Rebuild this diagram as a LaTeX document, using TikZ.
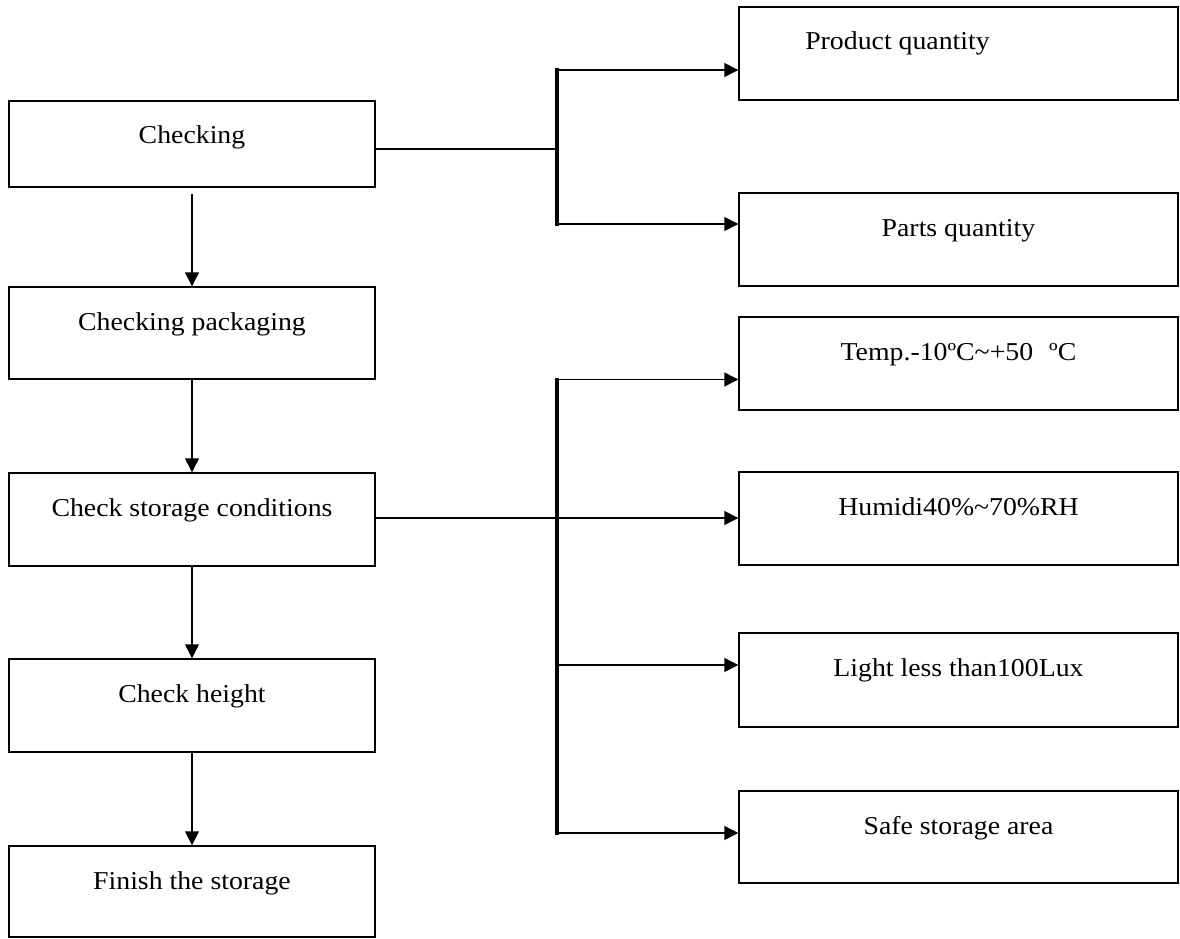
\documentclass[tikz,border=0pt]{standalone}
\usepackage{fontspec}
\setmainfont[FakeStretch=1.08]{Liberation Serif}
\usetikzlibrary{arrows.meta}
\begin{document}
\begin{tikzpicture}[x=0.75pt,y=-0.75pt,
  box/.style={draw, line width=1.1pt, inner sep=0pt, align=center,
    font=\fontsize{19.3pt}{23pt}\selectfont, text height=32.25pt},
  lbox/.style={box, minimum width=274.5pt},
  rbox/.style={box, minimum width=329.25pt},
  arr/.style={line width=1.1pt, -{Triangle[length=10.5pt,width=10.5pt]}},
  feed/.style={line width=2.1pt},
  trunk/.style={line width=2.3pt, line cap=rect}]
\useasboundingbox (0,0) rectangle (1180,938);
% left column
\node[lbox, text depth=32.25pt] (chk)  at (192,144)   {Checking};
\node[lbox, text depth=36.75pt] (pack) at (192,333)   {Checking packaging};
\node[lbox, text depth=37.5pt]  (stor) at (192,519.5) {Check storage conditions};
\node[lbox, text depth=37.5pt]  (hgt)  at (192,705.5) {Check height};
\node[lbox, text depth=36pt]    (fin)  at (192,891.5) {Finish the storage};
% right column
\node[rbox, text depth=37.5pt]  (prod)  at (958.5,53.5)  {Product quantity\hspace*{91.5pt}};
\node[rbox, text depth=37.5pt]  (parts) at (958.5,239.5) {Parts quantity};
\node[rbox, text depth=37.5pt]  (temp)  at (958.5,363.5) {Temp.-10ºC\textasciitilde+50\hspace{12pt}ºC};
\node[rbox, text depth=37.5pt]  (hum)   at (958.5,518.5) {Humidi40\%\textasciitilde70\%RH};
\node[rbox, text depth=38.25pt] (light) at (958.5,680)   {Light less than100Lux};
\node[rbox, text depth=36.75pt] (safe)  at (958.5,837)   {Safe storage area};
% vertical flow
\draw[arr, shorten <=4.5pt] (chk.south) -- (pack.north);
\draw[arr] (pack.south) -- (stor.north);
\draw[arr] (stor.south) -- (hgt.north);
\draw[arr] (hgt.south) -- (fin.north);
% first branch
\coordinate (j1) at (557,149);
\coordinate (t1) at (557,70);
\coordinate (b1) at (557,224);
\draw[feed] (chk.east |- j1) -- (j1);
\draw[trunk] (t1) -- (b1);
\draw[arr] (t1) -- (prod.west |- t1);
\draw[arr] (b1) -- (parts.west |- b1);
% second branch
\coordinate (j2) at (557,518);
\coordinate (t2) at (557,379.5);
\coordinate (m2) at (557,665);
\coordinate (b2) at (557,833);
\draw[feed] (stor.east |- j2) -- (j2);
\draw[trunk] (t2) -- (b2);
\draw[arr] (t2) -- (temp.west |- t2);
\draw[arr] (j2) -- (hum.west |- j2);
\draw[arr] (m2) -- (light.west |- m2);
\draw[arr] (b2) -- (safe.west |- b2);
\end{tikzpicture}
\end{document}
